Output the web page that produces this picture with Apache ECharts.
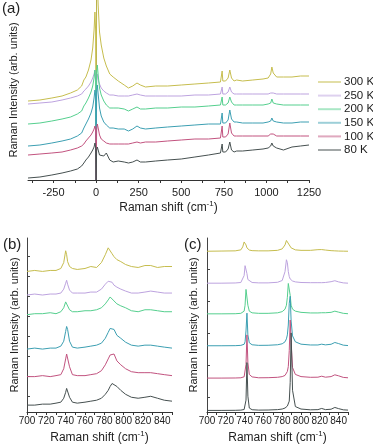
<!DOCTYPE html>
<html>
<head>
<meta charset="utf-8">
<script src="https://cdn.jsdelivr.net/npm/echarts@6/dist/echarts.min.js"></script>
<style>
  html, body { margin: 0; padding: 0; background: #fff; }
  #main { width: 373px; height: 447px; }
</style>
</head>
<body>
<div id="main"></div>
<script>
// temperatures (legend order, drawn first -> last)
var temps = ["300 K", "250 K", "200 K", "150 K", "100 K", "80 K"];
var colors = ["#c6bd4e", "#bda3df", "#55cf8e", "#3c9fb2", "#c2537f", "#465050"];

// panel (a): full spectra, offset stacked
var xA = [-400, -330, -260, -200, -150, -110, -85, -72, -60, -45, -30, -20, -12, -7, -3, 0, 3, 7, 12, 20, 30, 45, 60, 68, 80, 100, 130, 165, 190, 215, 240, 260, 290, 350, 420, 500, 580, 660, 730, 736, 740, 744, 760, 775, 785, 795, 810, 825, 860, 920, 980, 1010, 1025, 1032, 1040, 1060, 1100, 1150, 1200, 1250];
var a300 = [79, 80, 82, 84, 87, 90, 94, 100, 103, 110, 120, 132, 150, 168, 150, 0, 190, 200, 175, 148, 135, 122, 114, 112, 106, 103, 99, 95, 92, 94, 97, 95, 93, 94, 94, 95, 96, 97, 98, 99, 109, 99, 99, 102, 110, 102, 99, 100, 99, 100, 101, 102, 106, 113, 107, 103, 103, 103, 104, 104];
var a250 = [76, 77, 78, 80, 82, 84, 86, 89, 91, 94, 98, 102, 106, 110, 104, 0, 100, 106, 100, 96, 92, 89, 87, 87, 85, 85, 84, 84, 84, 85, 86, 85, 84, 84, 84, 84, 85, 85, 86, 86, 93, 86, 86, 88, 93, 88, 86, 86, 86, 86, 86, 86, 87, 89, 87, 86, 86, 86, 86, 86];
var a200 = [56, 57, 59, 61, 63, 66, 69, 74, 77, 82, 88, 94, 102, 110, 100, 0, 108, 115, 105, 92, 85, 79, 75, 75, 72, 72, 72, 71, 69, 71, 73, 71, 71, 72, 72, 73, 73, 74, 75, 75, 83, 75, 75, 77, 83, 78, 75, 75, 75, 75, 75, 76, 77, 81, 77, 76, 75, 75, 75, 75];
var a150 = [34, 35, 37, 39, 41, 44, 47, 52, 56, 61, 67, 73, 82, 90, 84, 0, 88, 95, 86, 72, 64, 58, 55, 56, 52, 52, 51, 51, 49, 51, 54, 52, 51, 52, 53, 54, 55, 56, 56, 57, 67, 57, 57, 60, 70, 61, 58, 58, 57, 57, 57, 58, 59, 62, 59, 58, 57, 57, 58, 58];
var a100 = [25, 26, 27, 28, 30, 32, 34, 36, 39, 42, 45, 48, 51, 54, 50, 0, 50, 56, 52, 45, 41, 39, 37, 38, 36, 36, 36, 36, 36, 37, 38, 37, 38, 38, 39, 40, 41, 41, 42, 42, 54, 43, 43, 46, 57, 47, 44, 44, 44, 44, 44, 44, 46, 48, 46, 44, 44, 44, 44, 44];
var a80 = [2, 3, 5, 7, 9, 11, 14, 17, 20, 23, 27, 30, 33, 37, 33, 0, 30, 33, 30, 25, 23, 24, 27, 27, 20, 18, 19, 18, 17, 18, 20, 18, 18, 19, 20, 21, 23, 25, 27, 27, 36, 28, 28, 31, 38, 30, 28, 29, 29, 30, 31, 32, 34, 37, 34, 32, 30, 33, 34, 35];

// panel (b): 700-850 region, measured
var xB = [700, 708, 716, 724, 730, 735, 738, 740, 741, 742, 744, 747, 752, 760, 766, 772, 777, 781, 784, 786, 788, 790, 793, 797, 802, 808, 815, 822, 828, 835, 842, 850];
var b300 = [143, 144, 143, 144, 144, 146, 152, 164, 160, 153, 148, 146, 145, 146, 148, 147, 152, 160, 167, 165, 161, 158, 155, 153, 150, 148, 147, 149, 149, 147, 148, 148];
var b250 = [119, 120, 119, 120, 120, 121, 125, 131, 134, 130, 124, 121, 121, 121, 122, 122, 125, 130, 133, 134, 132, 129, 127, 125, 123, 121, 121, 122, 123, 122, 121, 121];
var b200 = [99, 100, 100, 101, 100, 102, 106, 112, 114, 110, 104, 102, 102, 103, 103, 104, 106, 110, 114, 117, 116, 113, 110, 108, 106, 103, 102, 104, 104, 103, 102, 102];
var b150 = [64, 65, 64, 65, 65, 67, 72, 82, 87, 84, 72, 66, 65, 66, 67, 68, 70, 75, 81, 85, 87, 84, 78, 75, 71, 68, 67, 68, 68, 67, 66, 65];
var b100 = [36, 36, 37, 36, 37, 38, 44, 54, 59, 58, 46, 38, 37, 37, 38, 39, 42, 48, 54, 58, 60, 59, 52, 48, 44, 41, 40, 40, 40, 39, 38, 37];
var b80 = [7, 7, 8, 8, 9, 10, 14, 20, 24, 23, 15, 10, 9, 10, 11, 12, 14, 18, 22, 26, 29, 30, 26, 22, 18, 15, 14, 15, 16, 14, 12, 11];

// panel (c): 700-850 region, calculated
var xC = [700, 715, 730, 736, 738, 739.5, 740.5, 741.5, 742.5, 743.5, 745, 748, 755, 765, 775, 780, 783, 784.5, 785.5, 786.5, 787.5, 788.5, 789.5, 791, 794, 800, 810, 818, 822, 826, 832, 836, 840, 845, 850];
var c300 = [162.6, 162.8, 163, 164, 167, 172, 173, 169, 166, 164.5, 163.8, 163.2, 163, 163, 163.5, 165, 169, 173.5, 174, 172, 169, 167, 166, 165, 164, 163.5, 163.5, 164.2, 164.3, 163.8, 163.2, 163, 162.8, 162.7, 162.6];
var c250 = [130.3, 130.3, 130.5, 131, 132.5, 138, 148, 150, 140, 134, 132, 131, 130.6, 130.6, 131.2, 133, 142, 154, 151, 142, 137, 134.5, 133.5, 132.5, 131.6, 131, 130.8, 130.8, 130.8, 131, 131.8, 132.8, 131.6, 130.6, 130.3];
var c200 = [99.3, 99.3, 99.4, 99.8, 100.5, 102, 108, 124, 126, 108, 102, 100.3, 99.8, 99.8, 100.3, 101.5, 104, 108, 116, 130, 131, 118, 108, 104, 102, 100.8, 100.2, 100.2, 100.4, 100.4, 100.8, 102, 101, 99.8, 99.4];
var c150 = [67, 67, 67.1, 67.4, 67.8, 68.5, 71, 82, 100, 78, 70, 68, 67.4, 67.5, 68, 69, 71, 74, 78, 88, 110, 117, 92, 77, 71, 68.6, 67.8, 67.8, 68.6, 67.9, 68.5, 70.3, 69.2, 67.6, 67.2];
var c100 = [34.3, 34.3, 34.4, 34.6, 35, 35.6, 37, 48, 78, 50, 38, 35.5, 34.6, 34.7, 35.1, 35.8, 37, 39, 41, 46, 62, 93, 70, 45, 38, 35.8, 35.1, 35.2, 36.2, 35.2, 35.8, 37.6, 36.6, 35, 34.6];
var c80 = [1.6, 1.6, 1.7, 1.9, 2.1, 2.5, 3.5, 12, 50, 16, 4, 2.3, 1.9, 2, 2.4, 3, 4, 5, 6, 7.5, 11, 30, 80, 22, 5.5, 3, 2.2, 2.4, 3.6, 2.4, 2.8, 4.6, 3.4, 2.2, 1.9];

// tick positions / labels
var ticksA = [-375, -250, -125, 0, 125, 250, 375, 500, 625, 750, 875, 1000, 1125, 1250];
var labelsA = [-250, 0, 250, 500, 750, 1000, 1250];
var ticksBC = [700, 710, 720, 730, 740, 750, 760, 770, 780, 790, 800, 810, 820, 830, 840, 850];
var labelsBC = [700, 720, 740, 760, 780, 800, 820, 840];
var yTicksB = [16, 36.3, 56.6, 76.9, 97.2, 117.5, 137.8, 158.1];
var yTicksC = [15.3, 47.6, 79.9, 112.2, 144.5];

var FONT = "Liberation Sans, Arial, sans-serif";
var panelsA = [a300, a250, a200, a150, a100, a80];
var panelsB = [b300, b250, b200, b150, b100, b80];
var panelsC = [c300, c250, c200, c150, c100, c80];

function zip(xs, ys) {
  return xs.map(function (x, i) { return [x, ys[i]]; });
}

var series = [];
[[xA, panelsA], [xB, panelsB], [xC, panelsC]].forEach(function (p, k) {
  p[1].forEach(function (ys, i) {
    series.push({
      name: temps[i],
      type: "line",
      xAxisIndex: k,
      yAxisIndex: k,
      data: zip(p[0], ys),
      showSymbol: false,
      symbol: "none",
      color: colors[i],
      lineStyle: { width: 1, color: colors[i] },
      silent: true
    });
  });
});

var shiftName = "Raman shift (cm{sup|-1})";
var nameStyle = {
  fontFamily: FONT, fontSize: 12, color: "#222", lineHeight: 16,
  rich: { sup: { fontFamily: FONT, fontSize: 8, lineHeight: 8, verticalAlign: "top", color: "#222" } }
};
var yNameStyle = { fontFamily: FONT, fontSize: 11, color: "#222" };

function xAxisFor(k, min, max, ticks, labels, fs, margin, gap) {
  return {
    type: "value", gridIndex: k, min: min, max: max,
    name: shiftName, nameLocation: "middle", nameGap: gap, nameTextStyle: nameStyle,
    axisLine: { lineStyle: { color: "#333", width: 1 } },
    axisTick: { customValues: ticks, length: 3, lineStyle: { color: "#333" } },
    axisLabel: {
      customValues: labels, fontFamily: FONT, fontSize: fs, color: "#222", margin: margin,
      formatter: function (v) { return String(v); }
    },
    splitLine: { show: false }
  };
}

function yAxisFor(k, max, ticks, gap) {
  return {
    type: "value", gridIndex: k, min: 0, max: max,
    name: "Raman Intensity (arb. units)", nameLocation: "middle", nameRotate: 90,
    nameGap: gap, nameTextStyle: yNameStyle,
    axisLine: { show: true, lineStyle: { color: "#444", width: 1 } },
    axisTick: ticks ? { show: true, inside: true, length: 3, customValues: ticks, lineStyle: { color: "#444" } } : { show: false },
    axisLabel: { show: false },
    splitLine: { show: false }
  };
}

var chart = echarts.init(document.getElementById("main"));
chart.setOption({
  animation: false,
  backgroundColor: "#fff",
  grid: [
    { left: 26, top: 0, width: 283, height: 180 },
    { left: 27, top: 238, width: 145, height: 177 },
    { left: 207, top: 238, width: 141, height: 176 }
  ],
  xAxis: [
    xAxisFor(0, -400, 1250, ticksA, labelsA, 11, 7, 20),
    xAxisFor(1, 700, 850, ticksBC, labelsBC, 10, 4, 18),
    xAxisFor(2, 700, 850, ticksBC, labelsBC, 10, 4, 18)
  ],
  yAxis: [
    yAxisFor(0, 180, null, 9),
    yAxisFor(1, 177, yTicksB, 7),
    yAxisFor(2, 176, yTicksC, 8)
  ],
  legend: {
    data: temps,
    orient: "vertical",
    left: 313, top: 71,
    icon: "rect",
    itemWidth: 23, itemHeight: 2, itemGap: 1.6,
    itemStyle: { opacity: 0.5 },
    textStyle: { fontFamily: FONT, fontSize: 11.5, color: "#222", lineHeight: 12, padding: [0, 0, 0, -2] },
    selectedMode: false
  },
  graphic: [
    { type: "text", left: 2, top: 1, style: { text: "(a)", font: "15px " + FONT, fill: "#222" } },
    { type: "text", left: 3, top: 237, style: { text: "(b)", font: "15px " + FONT, fill: "#222" } },
    { type: "text", left: 184, top: 237, style: { text: "(c)", font: "15px " + FONT, fill: "#222" } }
  ],
  series: series
});
</script>
</body>
</html>
